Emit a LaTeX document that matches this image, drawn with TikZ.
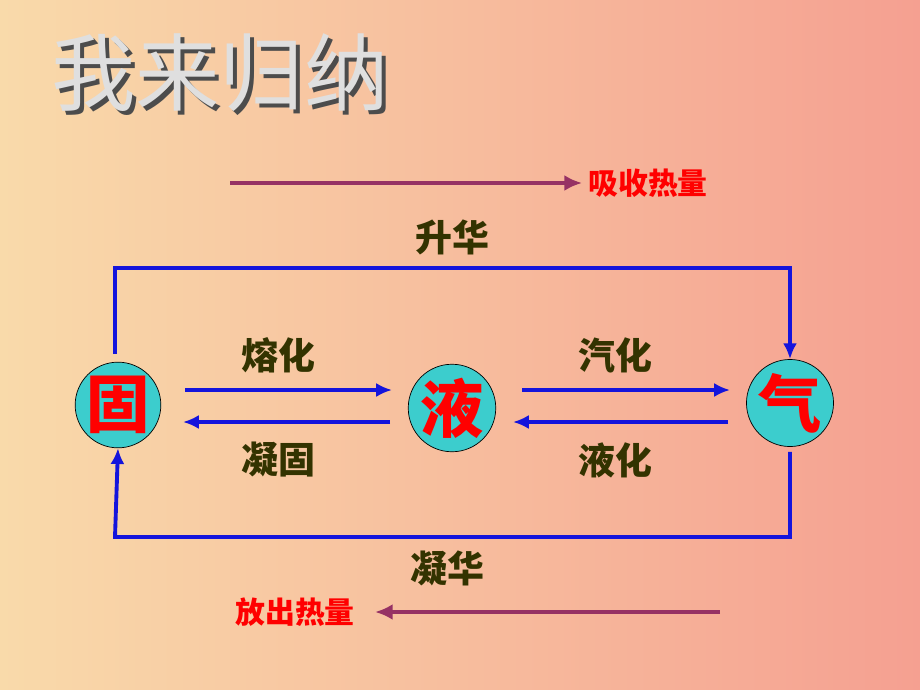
\documentclass[tikz,border=0pt]{standalone}
\usepackage{fontspec}
\newfontfamily\cjk{Noto Sans CJK SC}
\usetikzlibrary{arrows.meta}
\definecolor{flowblue}{RGB}{20,20,220}
\definecolor{heatline}{RGB}{150,50,100}
\definecolor{olivetext}{RGB}{51,51,0}
\definecolor{stateball}{RGB}{60,205,205}
\definecolor{bgleft}{RGB}{249,218,170}
\definecolor{bgright}{RGB}{245,160,145}
\begin{document}
\begin{tikzpicture}[x=0.02cm, y=-0.02cm,
    state/.style = {circle, draw = black, fill = stateball, minimum size = 1.52cm,
      inner sep = 0pt, text = red, font = \cjk\bfseries\fontsize{36}{36}\selectfont},
    proc/.style = {text = olivetext, font = \cjk\bfseries\fontsize{21}{21}\selectfont},
    heat/.style = {text = red, font = \cjk\bfseries\fontsize{17}{17}\selectfont},
    flow/.style = {draw = flowblue, line width = 2.2pt, -{Latex[length=9pt,width=8pt]}},
    heatarrow/.style = {draw = heatline, line width = 2.5pt, -{Latex[length=10pt,width=9pt]}}
  ]

  \shade[left color = bgleft, right color = bgright] (0,0) rectangle (920,690);
  \useasboundingbox (0,0) rectangle (920,690);

  % title
  \node[gray!60!black, font = \cjk\fontsize{48}{48}\selectfont] (titleshadow) at (224,77) {我来归纳};
  \node[gray!25!white, font = \cjk\fontsize{48}{48}\selectfont] (title) at (220,73) {我来归纳};

  \node[state] (S) at (118,405) {固};
  \node[state] (L) at (452,408) {液};
  \node[state] (G) at (790,403) {气};

  \coordinate (sT) at (115,268);
  \coordinate (gT) at (790,268);
  \coordinate (gB) at (790,537);
  \coordinate (sB) at (115,537);

  \draw[flow] (S.north) ++(-3,-8) -- (sT) -- (gT) -- (G.north);
  \draw[flow] (G.south) ++(0,5) -- (gB) -- (sB) -- (S.south);

  \coordinate (m1) at (185,390); \coordinate (m2) at (392,390);
  \coordinate (f1) at (390,422); \coordinate (f2) at (183,422);
  \coordinate (v1) at (522,390); \coordinate (v2) at (730,390);
  \coordinate (c1) at (728,422); \coordinate (c2) at (513,422);
  \draw[flow] (m1) -- (m2);
  \draw[flow] (f1) -- (f2);
  \draw[flow] (v1) -- (v2);
  \draw[flow] (c1) -- (c2);

  \node[proc] (sub) at (452,237) {升华};
  \node[proc] (melt) at (278,355) {熔化};
  \node[proc] (frz) at (278,460) {凝固};
  \node[proc] (vap) at (615,355) {汽化};
  \node[proc] (liq) at (615,460) {液化};
  \node[proc] (dep) at (447,568) {凝华};

  \node[heat] (absorb) at (648,183) {吸收热量};
  \node[heat] (release) at (295,612) {放出热量};
  \coordinate (aS) at (230,183);
  \coordinate (rS) at (720,612);
  \draw[heatarrow] (aS) -- (absorb.west);
  \draw[heatarrow] (rS) -- ([xshift=8pt]release.east);
\end{tikzpicture}
\end{document}
